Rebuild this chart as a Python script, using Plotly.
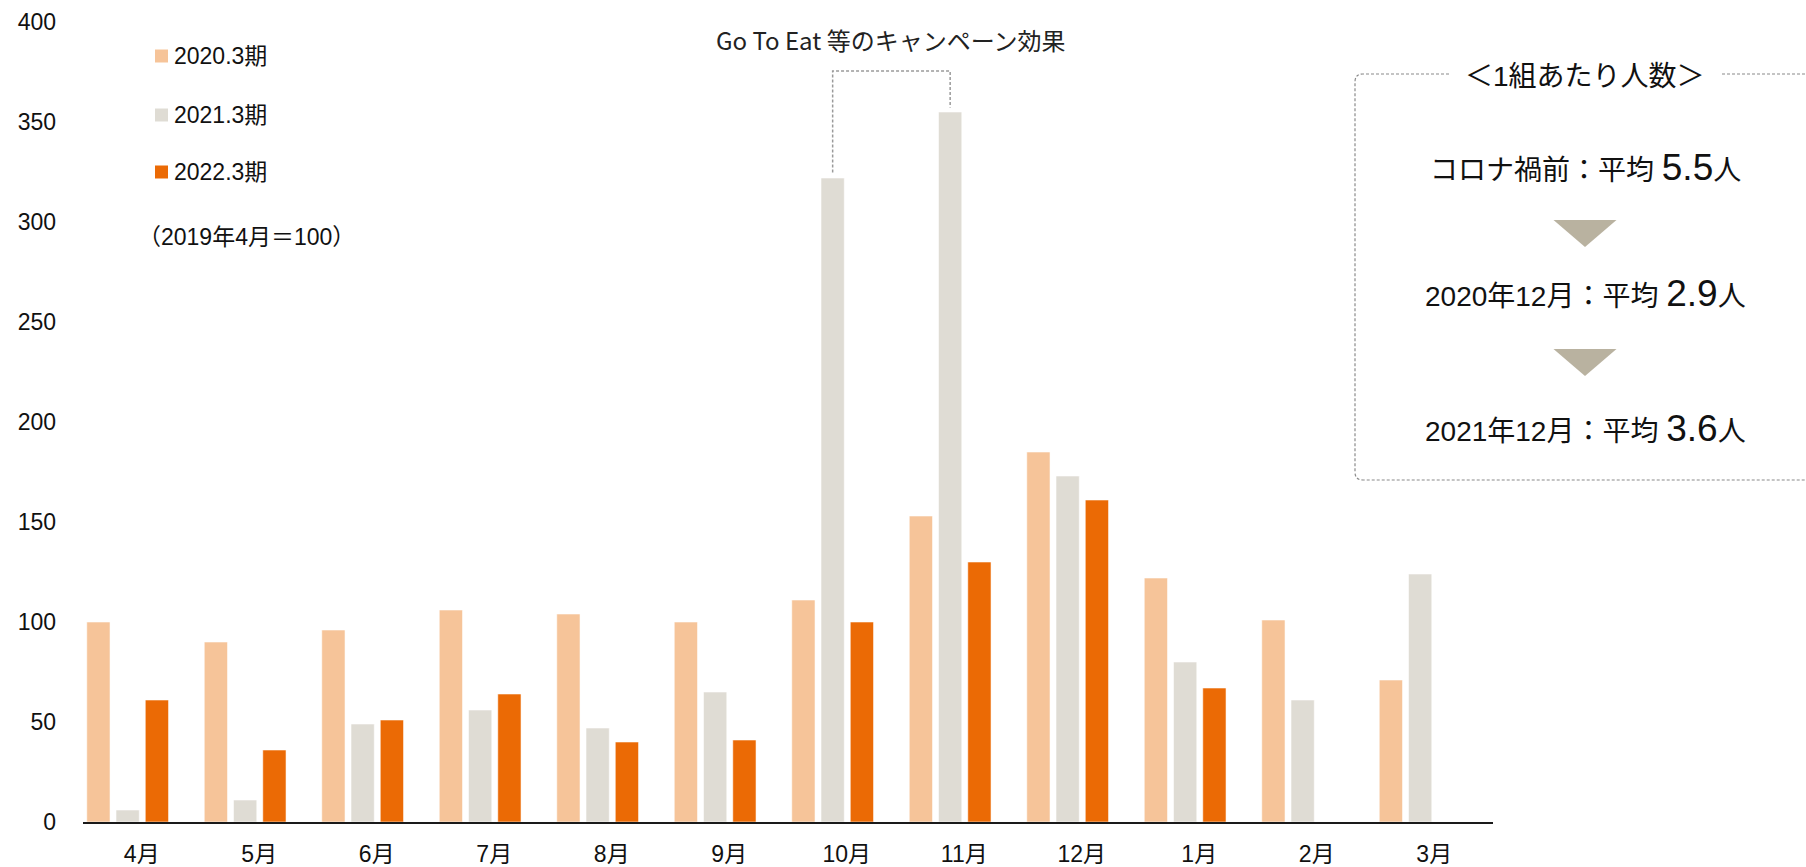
import plotly.graph_objects as go

# Monthly index (April 2019 = 100), fiscal years ending March
months = ["4月", "5月", "6月", "7月", "8月", "9月", "10月", "11月", "12月", "1月", "2月", "3月"]
fy2020 = [100, 90, 96, 106, 104, 100, 111, 153, 185, 122, 101, 71]
fy2021 = [6, 11, 49, 56, 47, 65, 322, 355, 173, 80, 61, 124]
fy2022 = [61, 36, 51, 64, 40, 41, 100, 130, 161, 67, None, None]

series_names = ["2020.3期", "2021.3期", "2022.3期"]
series_colors = ["#F6C499", "#DFDCD4", "#EB6A05"]

W, H = 1806, 867
L, R, T, B = 83, 313, 22, 45
PW, PH = W - L - R, H - T - B

BASE_FONT = "Liberation Sans, Arial, Noto Sans CJK JP, sans-serif"
JP_FONT = "Noto Sans CJK JP, sans-serif"


def fx(p):
    return (p - L) / PW


def fy(p):
    return (H - B - p) / PH


bar_w = 0.198
offsets = [-0.468, -0.219, 0.030]

fig = go.Figure()
for name, vals, col, off in zip(series_names, [fy2020, fy2021, fy2022], series_colors, offsets):
    fig.add_trace(go.Bar(
        x=months, y=vals, name=name,
        marker=dict(color=col, line=dict(color="rgba(255,255,255,0.55)", width=1)),
        width=bar_w, offset=off, showlegend=False,
    ))

shapes = []
annotations = []

# Legend swatches and labels
legend_y = [56, 115, 172]
for name, col, yy in zip(series_names, series_colors, legend_y):
    shapes.append(dict(type="rect", xref="paper", yref="paper",
                       x0=fx(155), x1=fx(168), y0=fy(yy + 6.5), y1=fy(yy - 6.5),
                       fillcolor=col, line=dict(width=0)))
    annotations.append(dict(xref="paper", yref="paper", x=fx(172), y=fy(yy),
                            xanchor="left", yanchor="middle", showarrow=False,
                            text=name, font=dict(size=23, color="#111", family=BASE_FONT)))

annotations.append(dict(xref="paper", yref="paper", x=fx(246), y=fy(237),
                        xanchor="center", yanchor="middle", showarrow=False,
                        text="（2019年4月＝100）",
                        font=dict(size=23, color="#111", family=BASE_FONT)))

# Campaign bracket joining the October and November bars of FY2021
i_oct, i_nov = months.index("10月"), months.index("11月")
bx1 = i_oct + offsets[1] + bar_w / 2
bx2 = i_nov + offsets[1] + bar_w / 2
btop = 375.5
shapes.append(dict(type="path", xref="x", yref="y",
                   path=f"M {bx1},{fy2021[i_oct] + 2.7} L {bx1},{btop} L {bx2},{btop} L {bx2},{fy2021[i_nov] + 2.2}",
                   line=dict(color="#9A9A9A", width=1.5, dash="3px,2px")))
annotations.append(dict(xref="paper", yref="paper", x=fx(891), y=fy(40),
                        xanchor="center", yanchor="middle", showarrow=False,
                        text="Go To Eat 等のキャンペーン効果",
                        font=dict(size=24, color="#222", family=JP_FONT)))

# Side panel: party size per group
bx0, by0, by1, rad = 1355, 74, 480, 8
far = 1840
panel_line = dict(color="#8A8A8A", width=1.2, dash="3px,2px")
shapes.append(dict(type="path", xref="paper", yref="paper",
                   path=(f"M {fx(1449)},{fy(by0)} L {fx(bx0 + rad)},{fy(by0)} "
                         f"Q {fx(bx0)},{fy(by0)} {fx(bx0)},{fy(by0 + rad)} "
                         f"L {fx(bx0)},{fy(by1 - rad)} "
                         f"Q {fx(bx0)},{fy(by1)} {fx(bx0 + rad)},{fy(by1)} "
                         f"L {fx(far)},{fy(by1)}"),
                   line=panel_line))
shapes.append(dict(type="line", xref="paper", yref="paper",
                   x0=fx(1722), x1=fx(far), y0=fy(by0), y1=fy(by0), line=panel_line))

cx = 1585
annotations.append(dict(xref="paper", yref="paper", x=fx(cx), y=fy(77),
                        xanchor="center", yanchor="middle", showarrow=False,
                        text="＜1組あたり人数＞",
                        font=dict(size=28, color="#111", family=BASE_FONT)))

panel_rows = [("コロナ禍前：平均", "5.5", 167), ("2020年12月：平均", "2.9", 293), ("2021年12月：平均", "3.6", 428)]
for label, num, yy in panel_rows:
    annotations.append(dict(xref="paper", yref="paper", x=fx(cx), y=fy(yy),
                            xanchor="center", yanchor="middle", showarrow=False,
                            text=f"{label} <span style='font-size:37px'>{num}</span>人",
                            font=dict(size=28, color="#111", family=BASE_FONT)))

tri_color = "#B9B2A0"
for ty in [220, 349]:
    shapes.append(dict(type="path", xref="paper", yref="paper",
                       path=(f"M {fx(cx - 31.5)},{fy(ty)} L {fx(cx + 31.5)},{fy(ty)} "
                             f"L {fx(cx)},{fy(ty + 27)} Z"),
                       fillcolor=tri_color, line=dict(width=0)))

fig.update_layout(
    width=W, height=H,
    margin=dict(l=L, r=R, t=T, b=B),
    paper_bgcolor="white", plot_bgcolor="white",
    barmode="overlay",
    font=dict(family=BASE_FONT, size=23, color="#111"),
    shapes=shapes, annotations=annotations,
    xaxis=dict(type="category", range=[-0.5, 11.5], showgrid=False, zeroline=False,
               showline=True, linecolor="#1a1a1a", linewidth=1.5, ticks="", automargin=False,
               tickfont=dict(size=23, color="#111"), ticklabelstandoff=11),
    yaxis=dict(range=[0, 400], dtick=50, showgrid=False, zeroline=False, showline=False,
               ticks="", automargin=False, tickfont=dict(size=23, color="#111"), ticklabelstandoff=26),
)

fig.write_html("out.html")
